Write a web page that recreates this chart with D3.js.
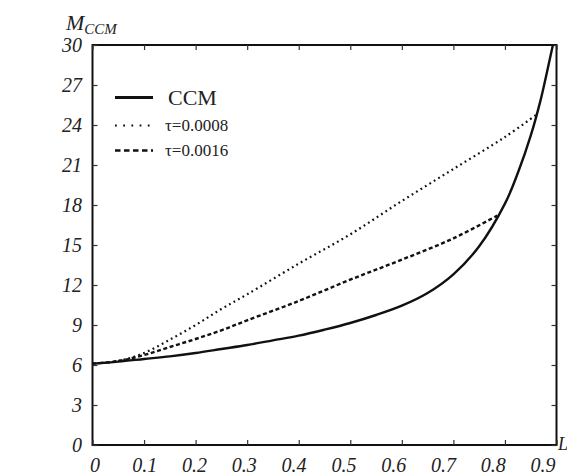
<!DOCTYPE html>
<html>
<head>
<meta charset="utf-8">
<script src="https://cdn.jsdelivr.net/npm/d3@7"></script>
<style>
  html, body { margin: 0; padding: 0; background: #fff; }
  svg { display: block; }
  text { font-family: "Liberation Serif", "Times New Roman", serif; fill: #222; }
</style>
</head>
<body>
<svg id="chart" width="567" height="476"></svg>
<script>
// ---- data ----
const ccmL   = [0, 0.05, 0.1, 0.15, 0.2, 0.25, 0.3, 0.35, 0.4, 0.45, 0.5, 0.55, 0.6, 0.65, 0.7, 0.75, 0.8, 0.825, 0.85, 0.87, 0.88, 0.893];
const ccmM   = [6.1, 6.25, 6.45, 6.65, 6.9, 7.2, 7.5, 7.85, 8.2, 8.65, 9.15, 9.75, 10.45, 11.4, 12.8, 14.9, 18.1, 20.4, 23.2, 26.0, 27.7, 30];
const tau1L  = [0, 0.05, 0.1, 0.15, 0.2, 0.25, 0.3, 0.4, 0.5, 0.6, 0.7, 0.8, 0.862];
const tau1M  = [6.1, 6.3, 6.9, 7.9, 9.0, 10.2, 11.3, 13.6, 15.8, 18.3, 20.7, 23.1, 24.8];
const tau2L  = [0, 0.05, 0.1, 0.15, 0.2, 0.25, 0.3, 0.4, 0.5, 0.6, 0.7, 0.785];
const tau2M  = [6.1, 6.3, 6.75, 7.35, 7.95, 8.6, 9.35, 10.8, 12.4, 13.9, 15.5, 17.2];
const xTicks = [0, 0.1, 0.2, 0.3, 0.4, 0.5, 0.6, 0.7, 0.8, 0.9];
const yTicks = [0, 3, 6, 9, 12, 15, 18, 21, 24, 27, 30];
const legendLabels = ["CCM", "τ=0.0008", "τ=0.0016"];

(function () {
// ---- layout ----
const svg = d3.select("#chart");
const pLeft = 92.5, pRight = 556.5, pTop = 45, pBottom = 445;
const x = d3.scaleLinear().domain([0, 0.9]).range([pLeft, pRight]);
const y = d3.scaleLinear().domain([0, 30]).range([pBottom, pTop]);
const xLabelPos = d3.scaleLinear().domain([0, 0.9]).range([95, 543]);

const g = svg.append("g");

// frame
g.append("rect").attr("x", pLeft).attr("y", pTop)
  .attr("width", pRight - pLeft).attr("height", pBottom - pTop)
  .attr("fill", "none").attr("stroke", "#111").attr("stroke-width", 2);

// ticks (inward on all sides)
const tickLen = 5;
const axB = d3.axisBottom(x).tickValues(xTicks).tickSizeInner(-tickLen).tickSizeOuter(0).tickFormat("");
const axT = d3.axisTop(x).tickValues(xTicks).tickSizeInner(-tickLen).tickSizeOuter(0).tickFormat("");
const axL = d3.axisLeft(y).tickValues(yTicks).tickSizeInner(-tickLen).tickSizeOuter(0).tickFormat("");
const axR = d3.axisRight(y).tickValues(yTicks).tickSizeInner(-tickLen).tickSizeOuter(0).tickFormat("");
[[axB, `translate(0,${pBottom})`], [axT, `translate(0,${pTop})`],
 [axL, `translate(${pLeft},0)`], [axR, `translate(${pRight},0)`]].forEach(([ax, tr]) => {
  const a = g.append("g").attr("transform", tr).call(ax);
  a.select(".domain").remove();
  a.selectAll("line").attr("stroke", "#333").attr("stroke-width", 1.2);
});

// tick labels
g.selectAll(".xl").data(xTicks).enter().append("text")
  .attr("x", d => xLabelPos(d)).attr("y", 472)
  .attr("text-anchor", "middle").attr("font-style", "italic").attr("font-size", 20)
  .text(d => d === 0 ? "0" : d3.format(".1f")(d));
g.selectAll(".yl").data(yTicks).enter().append("text")
  .attr("x", 82).attr("y", d => y(d)).attr("dy", "0.35em")
  .attr("text-anchor", "end").attr("font-style", "italic").attr("font-size", 20)
  .text(d => d);

// axis titles
const yt = g.append("text").attr("x", 66).attr("y", 30).attr("font-style", "italic").attr("font-size", 22);
yt.append("tspan").text("M");
yt.append("tspan").attr("dy", 4).attr("font-size", 15).text("CCM");
g.append("text").attr("x", 558).attr("y", 450).attr("font-style", "italic").attr("font-size", 18).text("L");

// curves
const line = d3.line().x(d => x(d[0])).y(d => y(d[1])).curve(d3.curveCatmullRom.alpha(0.5));
const series = [
  {L: ccmL, M: ccmM, dash: null, w: 2.4},
  {L: tau1L, M: tau1M, dash: "1.8,3.4", w: 2.2},
  {L: tau2L, M: tau2M, dash: "4,2.6", w: 2.4}
];
series.forEach(s => {
  g.append("path").datum(s.L.map((v, i) => [v, s.M[i]]))
    .attr("d", line).attr("fill", "none").attr("stroke", "#111")
    .attr("stroke-width", s.w).attr("stroke-dasharray", s.dash);
});

// legend
const legY = [97.5, 125.5, 150.5];
const legDash = [null, "1.8,6.4", "5.5,3.5"];
const legW = [3, 2.2, 2.6];
const legFont = [22, 17, 17];
legendLabels.forEach((t, i) => {
  g.append("line").attr("x1", 115).attr("x2", 153).attr("y1", legY[i]).attr("y2", legY[i])
    .attr("stroke", "#111").attr("stroke-width", legW[i]).attr("stroke-dasharray", legDash[i]);
  g.append("text").attr("x", i === 0 ? 168 : 165).attr("y", legY[i]).attr("dy", "0.35em")
    .attr("font-size", legFont[i]).text(t);
});
})();
</script>
</body>
</html>
